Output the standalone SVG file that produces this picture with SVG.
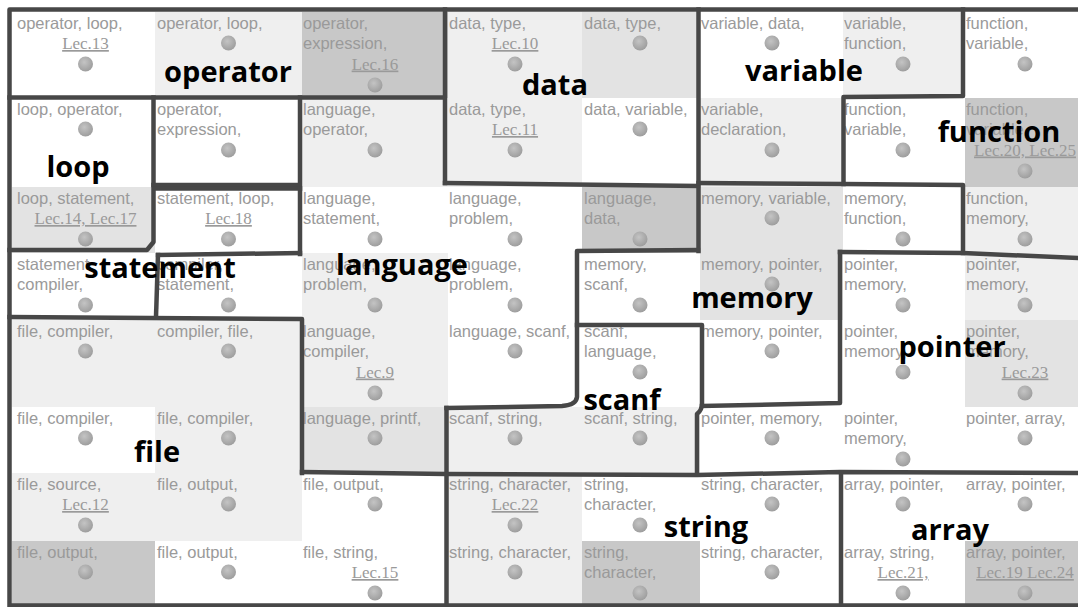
<svg xmlns="http://www.w3.org/2000/svg" width="1078" height="607" viewBox="0 0 1078 607">
<defs>
<radialGradient id="dg" cx="0.42" cy="0.38" r="0.65">
<stop offset="0" stop-color="#c4c4c4"/>
<stop offset="1" stop-color="#9c9c9c"/>
</radialGradient>
<style>
.w{fill:#ffffff}.l{fill:#efefef}.m{fill:#e3e3e3}.k{fill:#c8c8c8}
.t{font-family:"Liberation Sans",Arial,sans-serif;font-size:16.5px;fill:#9a9a9a}
.lec{font-family:"Liberation Serif","Times New Roman",serif;font-size:17px;fill:#9a9a9a;text-anchor:middle;text-decoration:underline}
.d{fill:url(#dg)}
.b{fill:none;stroke:#474747;stroke-width:4.5;stroke-linejoin:round;stroke-linecap:square}
.lab{font-family:"Open Sans","Noto Sans",sans-serif;font-weight:bold;font-size:29px;fill:#000;text-anchor:middle}
</style>
</defs>
<rect width="1078" height="607" fill="#fff"/>
<g id="cells">
<g id="c11"><rect class="w" x="12" y="12" width="143" height="86"/><text class="t" x="17" y="28.5">operator, loop,</text><text class="lec" x="85.5" y="49">Lec.13</text><circle class="d" cx="85.5" cy="64" r="7.5"/></g>
<g id="c12"><rect class="l" x="155" y="12" width="147" height="86"/><text class="t" x="157" y="28.5">operator, loop,</text><circle class="d" cx="228.5" cy="43" r="7.5"/></g>
<g id="c13"><rect class="k" x="302" y="12" width="146" height="86"/><text class="t" x="303" y="28.5">operator,</text><text class="t" x="303" y="49">expression,</text><text class="lec" x="375" y="69.5">Lec.16</text><circle class="d" cx="375" cy="85" r="7.5"/></g>
<g id="c14"><rect class="l" x="448" y="12" width="134" height="86"/><text class="t" x="449" y="28.5">data, type,</text><text class="lec" x="515" y="49">Lec.10</text><circle class="d" cx="515" cy="64" r="7.5"/></g>
<g id="c15"><rect class="m" x="582" y="12" width="118" height="86"/><text class="t" x="584" y="28.5">data, type,</text><circle class="d" cx="640" cy="43" r="7.5"/></g>
<g id="c16"><rect class="w" x="700" y="12" width="143" height="86"/><text class="t" x="701" y="28.5">variable, data,</text><circle class="d" cx="772" cy="43" r="7.5"/></g>
<g id="c17"><rect class="l" x="843" y="12" width="122" height="86"/><text class="t" x="844" y="28.5">variable,</text><text class="t" x="844" y="49">function,</text><circle class="d" cx="903" cy="64" r="7.5"/></g>
<g id="c18"><rect class="w" x="965" y="12" width="113" height="86"/><text class="t" x="966" y="28.5">function,</text><text class="t" x="966" y="49">variable,</text><circle class="d" cx="1025" cy="64" r="7.5"/></g>

<g id="c21"><rect class="w" x="12" y="98" width="143" height="89"/><text class="t" x="17" y="114.5">loop, operator,</text><circle class="d" cx="85.5" cy="129" r="7.5"/></g>
<g id="c22"><rect class="w" x="155" y="98" width="147" height="89"/><text class="t" x="157" y="114.5">operator,</text><text class="t" x="157" y="135">expression,</text><circle class="d" cx="228.5" cy="150" r="7.5"/></g>
<g id="c23"><rect class="l" x="302" y="98" width="146" height="89"/><text class="t" x="303" y="114.5">language,</text><text class="t" x="303" y="135">operator,</text><circle class="d" cx="375" cy="150" r="7.5"/></g>
<g id="c24"><rect class="l" x="448" y="98" width="134" height="89"/><text class="t" x="449" y="114.5">data, type,</text><text class="lec" x="515" y="135">Lec.11</text><circle class="d" cx="515" cy="150" r="7.5"/></g>
<g id="c25"><rect class="w" x="582" y="98" width="118" height="89"/><text class="t" x="584" y="114.5">data, variable,</text><circle class="d" cx="640" cy="129" r="7.5"/></g>
<g id="c26"><rect class="l" x="700" y="98" width="143" height="89"/><text class="t" x="701" y="114.5">variable,</text><text class="t" x="701" y="135">declaration,</text><circle class="d" cx="772" cy="150" r="7.5"/></g>
<g id="c27"><rect class="w" x="843" y="98" width="122" height="89"/><text class="t" x="844" y="114.5">function,</text><text class="t" x="844" y="135">variable,</text><circle class="d" cx="903" cy="150" r="7.5"/></g>
<g id="c28"><rect class="k" x="965" y="98" width="113" height="89"/><text class="t" x="966" y="114.5">function,</text><text class="t" x="966" y="135">variable,</text><text class="lec" x="1025" y="155.5">Lec.20, Lec.25</text><circle class="d" cx="1025" cy="171" r="7.5"/></g>

<g id="c31"><rect class="m" x="12" y="187" width="143" height="66"/><text class="t" x="17" y="203.5">loop, statement,</text><text class="lec" x="85.5" y="224">Lec.14, Lec.17</text><circle class="d" cx="85.5" cy="239" r="7.5"/></g>
<g id="c32"><rect class="w" x="155" y="187" width="147" height="66"/><text class="t" x="157" y="203.5">statement, loop,</text><text class="lec" x="228.5" y="224">Lec.18</text><circle class="d" cx="228.5" cy="239" r="7.5"/></g>
<g id="c33"><rect class="w" x="302" y="187" width="146" height="66"/><text class="t" x="303" y="203.5">language,</text><text class="t" x="303" y="224">statement,</text><circle class="d" cx="375" cy="239" r="7.5"/></g>
<g id="c34"><rect class="w" x="448" y="187" width="134" height="66"/><text class="t" x="449" y="203.5">language,</text><text class="t" x="449" y="224">problem,</text><circle class="d" cx="515" cy="239" r="7.5"/></g>
<g id="c35"><rect class="k" x="582" y="187" width="118" height="66"/><text class="t" x="584" y="203.5">language,</text><text class="t" x="584" y="224">data,</text><circle class="d" cx="640" cy="239" r="7.5"/></g>
<g id="c36"><rect class="m" x="700" y="187" width="143" height="66"/><text class="t" x="701" y="203.5">memory, variable,</text><circle class="d" cx="772" cy="218" r="7.5"/></g>
<g id="c37"><rect class="w" x="843" y="187" width="122" height="66"/><text class="t" x="844" y="203.5">memory,</text><text class="t" x="844" y="224">function,</text><circle class="d" cx="903" cy="239" r="7.5"/></g>
<g id="c38"><rect class="l" x="965" y="187" width="113" height="66"/><text class="t" x="966" y="203.5">function,</text><text class="t" x="966" y="224">memory,</text><circle class="d" cx="1025" cy="239" r="7.5"/></g>

<g id="c41"><rect class="w" x="12" y="253" width="143" height="67"/><text class="t" x="17" y="269.5">statement,</text><text class="t" x="17" y="290">compiler,</text><circle class="d" cx="85.5" cy="305" r="7.5"/></g>
<g id="c42"><rect class="w" x="155" y="253" width="147" height="67"/><text class="t" x="157" y="269.5">compiler,</text><text class="t" x="157" y="290">statement,</text><circle class="d" cx="228.5" cy="305" r="7.5"/></g>
<g id="c43"><rect class="l" x="302" y="253" width="146" height="67"/><text class="t" x="303" y="269.5">language,</text><text class="t" x="303" y="290">problem,</text><circle class="d" cx="375" cy="305" r="7.5"/></g>
<g id="c44"><rect class="w" x="448" y="253" width="134" height="67"/><text class="t" x="449" y="269.5">language,</text><text class="t" x="449" y="290">problem,</text><circle class="d" cx="515" cy="305" r="7.5"/></g>
<g id="c45"><rect class="w" x="582" y="253" width="118" height="67"/><text class="t" x="584" y="269.5">memory,</text><text class="t" x="584" y="290">scanf,</text><circle class="d" cx="640" cy="305" r="7.5"/></g>
<g id="c46"><rect class="m" x="700" y="253" width="143" height="67"/><text class="t" x="701" y="269.5">memory, pointer,</text><circle class="d" cx="772" cy="284" r="7.5"/></g>
<g id="c47"><rect class="w" x="843" y="253" width="122" height="67"/><text class="t" x="844" y="269.5">pointer,</text><text class="t" x="844" y="290">memory,</text><circle class="d" cx="903" cy="305" r="7.5"/></g>
<g id="c48"><rect class="l" x="965" y="253" width="113" height="67"/><text class="t" x="966" y="269.5">pointer,</text><text class="t" x="966" y="290">memory,</text><circle class="d" cx="1025" cy="305" r="7.5"/></g>

<g id="c51"><rect class="l" x="12" y="320" width="143" height="87"/><text class="t" x="17" y="336.5">file, compiler,</text><circle class="d" cx="85.5" cy="351" r="7.5"/></g>
<g id="c52"><rect class="l" x="155" y="320" width="147" height="87"/><text class="t" x="157" y="336.5">compiler, file,</text><circle class="d" cx="228.5" cy="351" r="7.5"/></g>
<g id="c53"><rect class="l" x="302" y="320" width="146" height="87"/><text class="t" x="303" y="336.5">language,</text><text class="t" x="303" y="357">compiler,</text><text class="lec" x="375" y="377.5">Lec.9</text><circle class="d" cx="375" cy="393" r="7.5"/></g>
<g id="c54"><rect class="w" x="448" y="320" width="134" height="87"/><text class="t" x="449" y="336.5">language, scanf,</text><circle class="d" cx="515" cy="351" r="7.5"/></g>
<g id="c55"><rect class="w" x="582" y="320" width="118" height="87"/><text class="t" x="584" y="336.5">scanf,</text><text class="t" x="584" y="357">language,</text><circle class="d" cx="640" cy="372" r="7.5"/></g>
<g id="c56"><rect class="w" x="700" y="320" width="143" height="87"/><text class="t" x="701" y="336.5">memory, pointer,</text><circle class="d" cx="772" cy="351" r="7.5"/></g>
<g id="c57"><rect class="w" x="843" y="320" width="122" height="87"/><text class="t" x="844" y="336.5">pointer,</text><text class="t" x="844" y="357">memory,</text><circle class="d" cx="903" cy="372" r="7.5"/></g>
<g id="c58"><rect class="m" x="965" y="320" width="113" height="87"/><text class="t" x="966" y="336.5">pointer,</text><text class="t" x="966" y="357">memory,</text><text class="lec" x="1025" y="377.5">Lec.23</text><circle class="d" cx="1025" cy="393" r="7.5"/></g>

<g id="c61"><rect class="w" x="12" y="407" width="143" height="66"/><text class="t" x="17" y="423.5">file, compiler,</text><circle class="d" cx="85.5" cy="438" r="7.5"/></g>
<g id="c62"><rect class="l" x="155" y="407" width="147" height="66"/><text class="t" x="157" y="423.5">file, compiler,</text><circle class="d" cx="228.5" cy="438" r="7.5"/></g>
<g id="c63"><rect class="m" x="302" y="407" width="146" height="66"/><text class="t" x="303" y="423.5">language, printf,</text><circle class="d" cx="375" cy="438" r="7.5"/></g>
<g id="c64"><rect class="l" x="448" y="407" width="134" height="66"/><text class="t" x="449" y="423.5">scanf, string,</text><circle class="d" cx="515" cy="438" r="7.5"/></g>
<g id="c65"><rect class="l" x="582" y="407" width="118" height="66"/><text class="t" x="584" y="423.5">scanf, string,</text><circle class="d" cx="640" cy="438" r="7.5"/></g>
<g id="c66"><rect class="w" x="700" y="407" width="143" height="66"/><text class="t" x="701" y="423.5">pointer, memory,</text><circle class="d" cx="772" cy="438" r="7.5"/></g>
<g id="c67"><rect class="w" x="843" y="407" width="122" height="66"/><text class="t" x="844" y="423.5">pointer,</text><text class="t" x="844" y="444">memory,</text><circle class="d" cx="903" cy="459" r="7.5"/></g>
<g id="c68"><rect class="w" x="965" y="407" width="113" height="66"/><text class="t" x="966" y="423.5">pointer, array,</text><circle class="d" cx="1025" cy="438" r="7.5"/></g>

<g id="c71"><rect class="l" x="12" y="473" width="143" height="68"/><text class="t" x="17" y="489.5">file, source,</text><text class="lec" x="85.5" y="510">Lec.12</text><circle class="d" cx="85.5" cy="525" r="7.5"/></g>
<g id="c72"><rect class="l" x="155" y="473" width="147" height="68"/><text class="t" x="157" y="489.5">file, output,</text><circle class="d" cx="228.5" cy="504" r="7.5"/></g>
<g id="c73"><rect class="w" x="302" y="473" width="146" height="68"/><text class="t" x="303" y="489.5">file, output,</text><circle class="d" cx="375" cy="504" r="7.5"/></g>
<g id="c74"><rect class="l" x="448" y="473" width="134" height="68"/><text class="t" x="449" y="489.5">string, character,</text><text class="lec" x="515" y="510">Lec.22</text><circle class="d" cx="515" cy="525" r="7.5"/></g>
<g id="c75"><rect class="w" x="582" y="473" width="118" height="68"/><text class="t" x="584" y="489.5">string,</text><text class="t" x="584" y="510">character,</text><circle class="d" cx="640" cy="525" r="7.5"/></g>
<g id="c76"><rect class="w" x="700" y="473" width="143" height="68"/><text class="t" x="701" y="489.5">string, character,</text><circle class="d" cx="772" cy="504" r="7.5"/></g>
<g id="c77"><rect class="w" x="843" y="473" width="122" height="68"/><text class="t" x="844" y="489.5">array, pointer,</text><circle class="d" cx="903" cy="504" r="7.5"/></g>
<g id="c78"><rect class="w" x="965" y="473" width="113" height="68"/><text class="t" x="966" y="489.5">array, pointer,</text><circle class="d" cx="1025" cy="504" r="7.5"/></g>

<g id="c81"><rect class="k" x="12" y="541" width="143" height="63"/><text class="t" x="17" y="557.5">file, output,</text><circle class="d" cx="85.5" cy="572" r="7.5"/></g>
<g id="c82"><rect class="w" x="155" y="541" width="147" height="63"/><text class="t" x="157" y="557.5">file, output,</text><circle class="d" cx="228.5" cy="572" r="7.5"/></g>
<g id="c83"><rect class="w" x="302" y="541" width="146" height="63"/><text class="t" x="303" y="557.5">file, string,</text><text class="lec" x="375" y="578">Lec.15</text><circle class="d" cx="375" cy="593" r="7.5"/></g>
<g id="c84"><rect class="l" x="448" y="541" width="134" height="63"/><text class="t" x="449" y="557.5">string, character,</text><circle class="d" cx="515" cy="572" r="7.5"/></g>
<g id="c85"><rect class="k" x="582" y="541" width="118" height="63"/><text class="t" x="584" y="557.5">string,</text><text class="t" x="584" y="578">character,</text><circle class="d" cx="640" cy="593" r="7.5"/></g>
<g id="c86"><rect class="w" x="700" y="541" width="143" height="63"/><text class="t" x="701" y="557.5">string, character,</text><circle class="d" cx="772" cy="572" r="7.5"/></g>
<g id="c87"><rect class="w" x="843" y="541" width="122" height="63"/><text class="t" x="844" y="557.5">array, string,</text><text class="lec" x="903" y="578">Lec.21,</text><circle class="d" cx="903" cy="593" r="7.5"/></g>
<g id="c88"><rect class="k" x="965" y="541" width="113" height="63"/><text class="t" x="966" y="557.5">array, pointer,</text><text class="lec" x="1025" y="578">Lec.19 Lec.24</text><circle class="d" cx="1025" cy="593" r="7.5"/></g>
</g>
<g id="borders">
<path class="b" d="M9.5 605.5 V9.5 H1078 M9.5 605.5 H1078"/>
<path class="b" d="M9.5 97.5 H445 M445 9.5 V183"/>
<path class="b" d="M153.5 97.5 V242 L147 250 H9.5"/>
<path class="b" d="M153.5 185 H300 M300 97.5 V254"/>
<path class="b" d="M155 188.5 H300 M158 255 L300 253"/>
<path class="b" d="M158 255 L156 317"/>
<path class="b" d="M9.5 317 L302 319 V473"/>
<path class="b" d="M302 472 L446 474 L697 475 L840 472 L1078 473"/>
<path class="b" d="M446.5 408 V605"/>
<path class="b" d="M446.5 408 L562 406 Q576 405 577 397 V251 L698 250"/>
<path class="b" d="M445 183 L698 186"/>
<path class="b" d="M698.5 9.5 V251"/>
<path class="b" d="M577 325 H702 V404 Q702 410 697 414 V474"/>
<path class="b" d="M702 406 L840 403 V252"/>
<path class="b" d="M840 252 L963 253 L1078 258"/>
<path class="b" d="M963 9.5 V96 L843.5 97 V184"/>
<path class="b" d="M698.5 183 L843.5 184 L963 185 V253"/>
<path class="b" d="M841 473 V605"/>
</g>
<g id="labels">
<text id="lab-operator" class="lab" x="228" y="82">operator</text>
<text id="lab-data" class="lab" x="555" y="95">data</text>
<text id="lab-variable" class="lab" x="804" y="81">variable</text>
<text id="lab-loop" class="lab" x="78" y="177">loop</text>
<text id="lab-function" class="lab" x="999" y="142">function</text>
<text id="lab-statement" class="lab" x="160" y="278">statement</text>
<text id="lab-language" class="lab" x="402" y="275">language</text>
<text id="lab-memory" class="lab" x="752" y="308">memory</text>
<text id="lab-pointer" class="lab" x="952" y="357">pointer</text>
<text id="lab-scanf" class="lab" x="622" y="410">scanf</text>
<text id="lab-file" class="lab" x="157" y="462">file</text>
<text id="lab-string" class="lab" x="706" y="537">string</text>
<text id="lab-array" class="lab" x="950" y="540">array</text>
</g>
</svg>
